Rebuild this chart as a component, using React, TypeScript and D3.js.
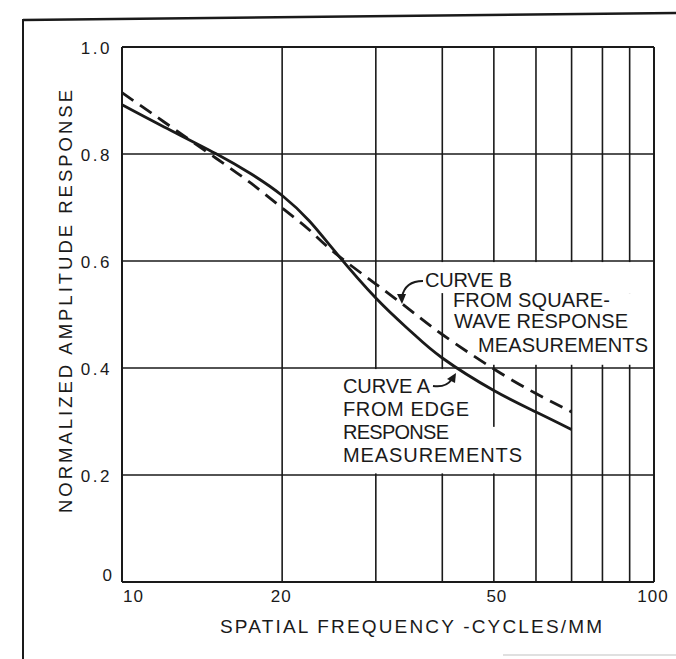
import React from "react";
import * as d3 from "d3";

const freqs = [10, 12, 15, 17.5, 20, 22.5, 25, 30, 35, 40, 50, 60, 70];
const curveA = [0.892, 0.8505, 0.801, 0.7626, 0.7224, 0.6748, 0.6206, 0.5308, 0.4673, 0.4187, 0.3579, 0.3178, 0.285];
const curveB = [0.9146, 0.8598, 0.7925, 0.7449, 0.6991, 0.658, 0.6168, 0.557, 0.5065, 0.4626, 0.3981, 0.3523, 0.3178];

const xGrid = [10, 20, 30, 40, 50, 60, 70, 80, 90, 100];
const xTickLabels = [10, 20, 50, 100];
const yGrid = [0, 0.2, 0.4, 0.6, 0.8, 1.0];
const yTickLabels = ["0", "0.2", "0.4", "0.6", "0.8", "1.0"];

const labelA = ["CURVE A", "FROM EDGE", "RESPONSE", "MEASUREMENTS"];
const labelB = ["CURVE B", "FROM SQUARE-", "WAVE RESPONSE", "MEASUREMENTS"];

// white backing boxes behind the annotations, in data units [f0, f1, v0, v1]
const masks = [
  [36.3, 99.4, 0.54, 0.598],
  [40.7, 99.4, 0.406, 0.54],
  [21.6, 45.1, 0.203, 0.398],
  [45.1, 58.5, 0.203, 0.29],
];

const W = 676;
const H = 659;
const FONT = "'Liberation Sans', Arial, Helvetica, sans-serif";
const INK = "#1a1a1a";

export default function App() {
  const x = d3.scaleLog().domain([10, 100]).range([122, 654]);
  const y = d3.scaleLinear().domain([0, 1]).range([582, 47]);

  const line = d3
    .line<number>()
    .x((_, i) => x(freqs[i]))
    .y((d) => y(d))
    .curve(d3.curveNatural);

  const textA = { x: 343, base: 393, step: 23 };
  const bRows = [
    { x: 425, y: 287, len: 87 },
    { x: 453, y: 307, len: 157 },
    { x: 454, y: 328, len: 174 },
    { x: 478, y: 352, len: 170 },
  ];
  const aLens = [87, 126, 106, 179];

  return (
    <svg
      width={W}
      height={H}
      style={{ position: "absolute", left: 0, top: 0, background: "#fff" }}
      fontFamily={FONT}
    >
      <rect x={0} y={0} width={W} height={H} fill="#fff" />
      {/* page frame */}
      <line x1={23} y1={20} x2={676} y2={13} stroke={INK} strokeWidth={2.5} />
      <line x1={23} y1={19} x2={23} y2={659} stroke={INK} strokeWidth={2} />
      <line x1={503} y1={655} x2={676} y2={655} stroke="#d6d6d6" strokeWidth={1.5} />

      {/* grid */}
      {xGrid.map((f) => (
        <line key={"gx" + f} x1={x(f)} x2={x(f)} y1={y(0)} y2={y(1)} stroke={INK} strokeWidth={f === 10 || f === 100 ? 2 : 1.6} />
      ))}
      {yGrid.map((v) => (
        <line key={"gy" + v} x1={x(10)} x2={x(100)} y1={y(v)} y2={y(v)} stroke={INK} strokeWidth={v === 0 || v === 1 ? 2 : 1.6} />
      ))}

      {/* annotation masks */}
      {masks.map((m, i) => (
        <rect key={"m" + i} x={x(m[0])} width={x(m[1]) - x(m[0])} y={y(m[3])} height={y(m[2]) - y(m[3])} fill="#fff" />
      ))}

      {/* curves */}
      <path d={line(curveB) || ""} fill="none" stroke={INK} strokeWidth={2.8} strokeDasharray="14,8" />
      <path d={line(curveA) || ""} fill="none" stroke={INK} strokeWidth={2.8} />

      {/* y tick labels */}
      {yGrid.map((v, i) => (
        <text key={"yl" + v} x={112} y={y(v) + (v === 0 ? -1 : 7)} textAnchor="end" fontSize={17} letterSpacing={v === 0 ? 0 : 2.5} fill={INK}>
          {yTickLabels[i]}
        </text>
      ))}
      {/* x tick labels */}
      {xTickLabels.map((f) => (
        <text key={"xl" + f} x={f === 10 ? x(f) + 1 : x(f) + (f === 50 ? 3 : -1)} y={602} textAnchor={f === 10 ? "start" : "middle"} fontSize={17} letterSpacing={1} fill={INK}>
          {f}
        </text>
      ))}

      {/* axis titles */}
      <text x={220} y={633} fontSize={19} textLength={382} lengthAdjust="spacing" fill={INK}>
        SPATIAL FREQUENCY -CYCLES/MM
      </text>
      <text transform="translate(72,513) rotate(-90)" fontSize={18.5} textLength={423} lengthAdjust="spacing" fill={INK}>
        NORMALIZED AMPLITUDE RESPONSE
      </text>

      {/* annotation A */}
      {labelA.map((t, i) => (
        <text key={"a" + i} x={textA.x} y={textA.base + i * textA.step} fontSize={20} textLength={aLens[i]} lengthAdjust="spacing" fill={INK}>
          {t}
        </text>
      ))}
      {/* annotation B */}
      {labelB.map((t, i) => (
        <text key={"b" + i} x={bRows[i].x} y={bRows[i].y} fontSize={20} textLength={bRows[i].len} lengthAdjust="spacing" fill={INK}>
          {t}
        </text>
      ))}

      {/* arrows */}
      <path d="M423,281 Q405,281 402,297" fill="none" stroke={INK} strokeWidth={2} />
      <path d="M397,294 L402,304 L406,294 Z" fill={INK} />
      <path d="M433,386 Q446,388 452,379" fill="none" stroke={INK} strokeWidth={2} />
      <path d="M447,379 L456,373 L455,383 Z" fill={INK} />
    </svg>
  );
}
